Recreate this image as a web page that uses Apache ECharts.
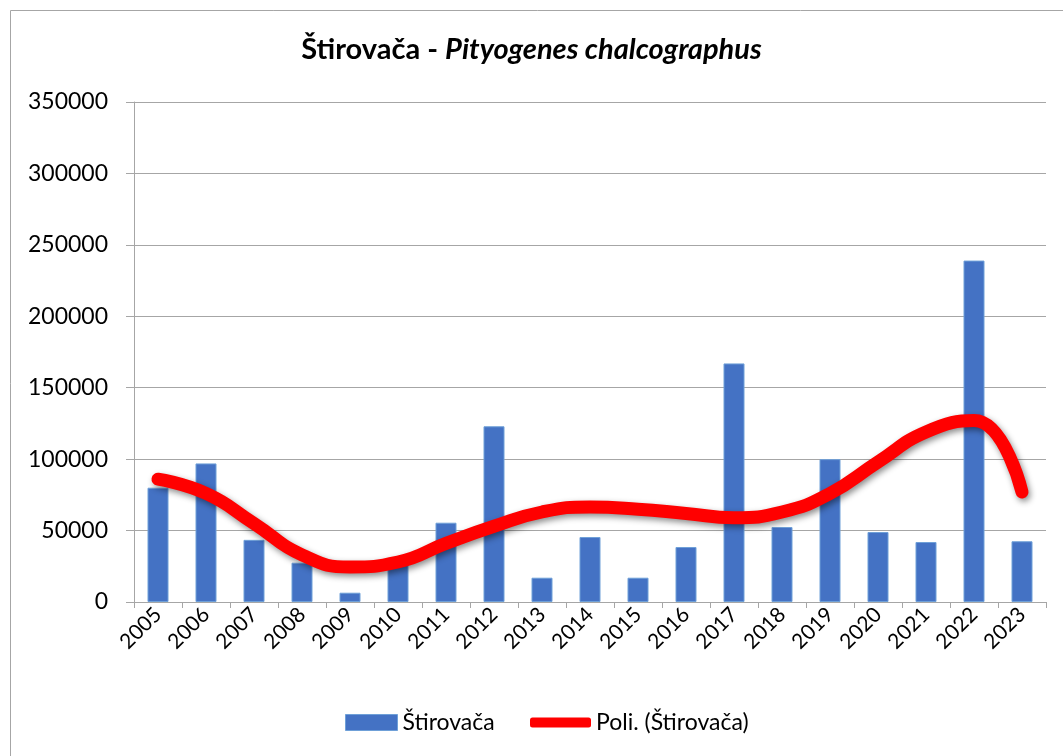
<!DOCTYPE html>
<html>
<head>
<meta charset="utf-8">
<script src="https://cdn.jsdelivr.net/npm/echarts@6/dist/echarts.min.js"></script>
<style>
  html, body { margin: 0; padding: 0; background: #fff; }
  #main { width: 1063px; height: 756px; }
</style>
</head>
<body>
<div id="main"></div>
<script>
// godine
var godine = ['2005', '2006', '2007', '2008', '2009', '2010', '2011', '2012', '2013', '2014',
              '2015', '2016', '2017', '2018', '2019', '2020', '2021', '2022', '2023'];
// ulov po godinama
var stirovaca = [80000, 97000, 43500, 27500, 6500, 26000, 55500, 123000, 17000, 45500,
                 17000, 38500, 167000, 52500, 100000, 49000, 42000, 239000, 42500];
// polinomni trend (ocitano sa slike)
var poliTrend = [86000, 76000, 55000, 33000, 24500, 28000, 41000, 53000, 63000, 66500,
                 65000, 62000, 59000, 63000, 76000, 98000, 119000, 127000, 77000];
var yTicks = [0, 50000, 100000, 150000, 200000, 250000, 300000, 350000];

var myChart = echarts.init(document.getElementById('main'));
var font = 'Lato, "Open Sans", sans-serif';

var option = {
    animation: false,
    textStyle: { fontFamily: font },
    graphic: [{
        type: 'rect',
        shape: { x: 10.5, y: 10.5, width: 1100, height: 800 },
        style: { fill: 'none', stroke: '#a6a6a6', lineWidth: 1 },
        z: -1
    }],
    title: {
        text: '{a|Štirovača - }{b|Pityogenes chalcographus}',
        left: 'center',
        top: 35,
        padding: 0,
        textStyle: {
            fontSize: 29,
            fontWeight: 'bold',
            rich: {
                a: { fontSize: 29, fontWeight: 'bold', color: '#000', fontFamily: font },
                b: { fontSize: 29, fontWeight: 'bold', fontStyle: 'italic', color: '#000', fontFamily: font }
            }
        }
    },
    grid: { left: 134, right: 17, top: 102, bottom: 154 },
    legend: [
        {
            left: 340,
            top: 706,
            textStyle: { fontSize: 23, color: '#000', fontFamily: font },
            data: [{ name: 'Štirovača', icon: 'rect', itemStyle: { color: '#4472c4', borderColor: '#6fa0d8', borderWidth: 1 } }],
            itemWidth: 52,
            itemHeight: 16
        },
        {
            left: 525,
            top: 706,
            textStyle: { fontSize: 23, color: '#000', fontFamily: font },
            data: [{ name: 'Poli. (Štirovača)', icon: 'roundRect' }],
            itemWidth: 61,
            itemHeight: 10
        }
    ],
    xAxis: {
        type: 'category',
        data: godine,
        axisLine: { lineStyle: { color: '#a6a6a6' } },
        axisTick: { show: true, length: 6, lineStyle: { color: '#a6a6a6' } },
        axisLabel: { rotate: 45, fontSize: 21, color: '#000', margin: 9 }
    },
    yAxis: {
        type: 'value',
        min: yTicks[0],
        max: yTicks[yTicks.length - 1],
        interval: 50000,
        axisLine: { show: true, lineStyle: { color: '#a6a6a6' } },
        axisTick: { show: true, length: 8, lineStyle: { color: '#a6a6a6' } },
        splitLine: { lineStyle: { color: '#a6a6a6', width: 1 } },
        axisLabel: { fontSize: 23, color: '#000', margin: 26, formatter: function (v) { return String(v); } }
    },
    series: [
        {
            name: 'Štirovača',
            type: 'bar',
            data: stirovaca,
            barWidth: 21,
            itemStyle: { color: '#4472c4', borderColor: '#6fa0d8', borderWidth: 1 },
            z: 2
        },
        {
            name: 'Poli. (Štirovača)',
            type: 'line',
            data: poliTrend,
            smooth: 0.5,
            symbol: 'none',
            lineStyle: {
                color: '#ff0000', width: 13, cap: 'round',
                shadowColor: 'rgba(0,0,0,0.45)', shadowBlur: 6, shadowOffsetX: 2, shadowOffsetY: 3
            },
            itemStyle: { color: '#ff0000' },
            z: 3
        }
    ]
};
myChart.setOption(option);
</script>
</body>
</html>
